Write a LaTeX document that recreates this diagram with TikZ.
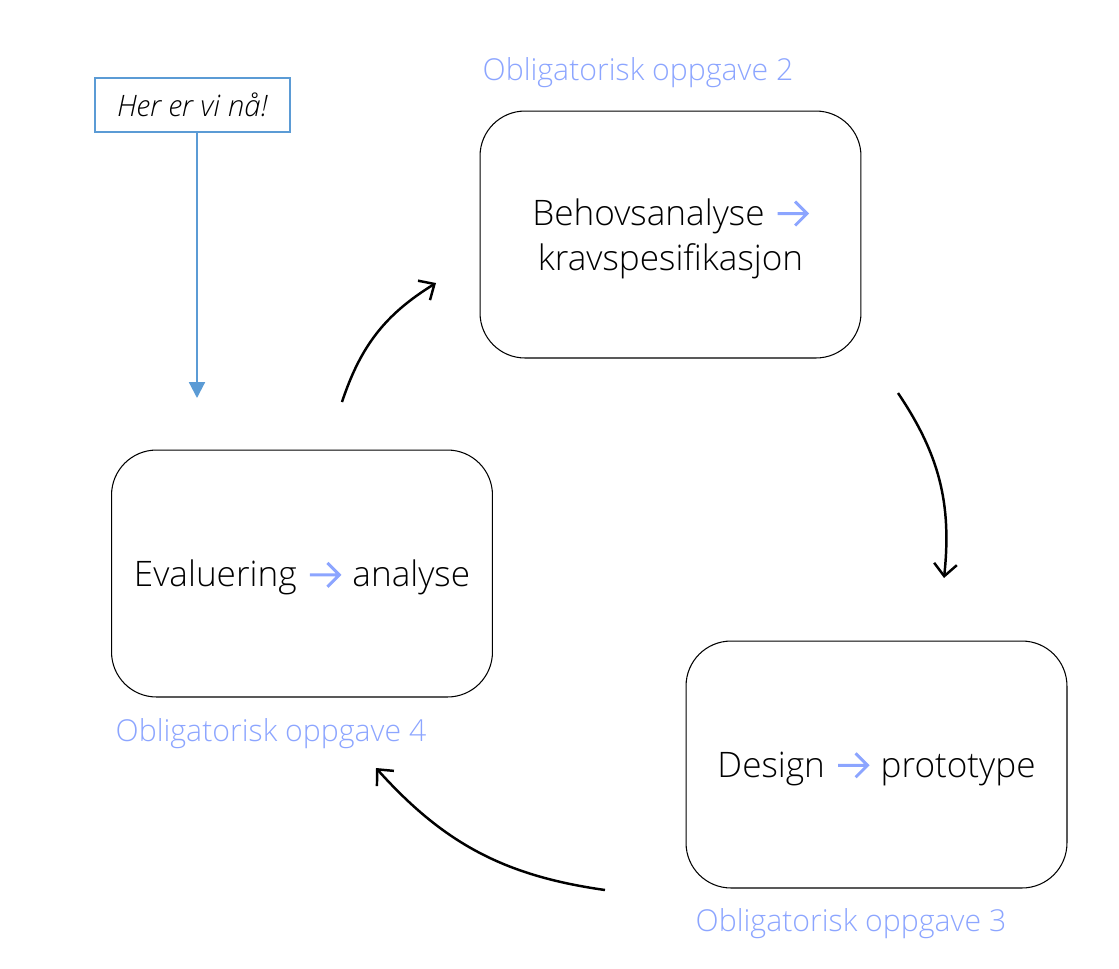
\documentclass[tikz,border=0pt]{standalone}
\usepackage{fontspec}
\setmainfont{Open Sans}[UprightFont=* Light,ItalicFont=* Light Italic]
\usepackage{xcolor}
\usepackage{tikz}
\usetikzlibrary{arrows.meta,positioning,calc}
\definecolor{taskblue}{RGB}{140,165,255}
\definecolor{nowblue}{RGB}{91,155,213}
\newcommand{\nextstep}{\hspace{0.07em}\tikz[baseline=0pt]\draw[taskblue,line width=1.7pt,sharp corners,line join=miter]
    (0,0.34em) -- (0.82em,0.34em) (0.5em,0.68em) -- (0.84em,0.34em) -- (0.5em,0em);\hspace{0.07em}}

\begin{document}
\begin{tikzpicture}[x=0.02cm,y=-0.02cm,
    phase/.style={draw=black,line width=0.6pt,rounded corners=0.9cm,
        minimum width=7.62cm,minimum height=4.94cm,align=center,text depth=0pt,
        font=\fontsize{20}{25.5}\selectfont},
    task/.style={text=taskblue,font=\fontsize{17.2}{20}\selectfont},
    cyclearrow/.style={line width=1.4pt,-{Straight Barb[length=7pt,width=13pt,line width=1.4pt]}}]
    \useasboundingbox (0,0) rectangle (1119,968);

    % Phases of the cycle
    \node[phase] (behov) at (670.5,234.5) {Behovsanalyse \nextstep\\kravspesifikasjon};
    \node[phase] (design) at (876.5,764.5) {Design \nextstep\ prototype};
    \node[phase] (eval) at (302,573.5) {Evaluering \nextstep\ analyse};

    % Assignment labels
    \node[task] (oblig2) at (638,73) {Obligatorisk oppgave 2};
    \node[task] (oblig3) at (851,924) {Obligatorisk oppgave 3};
    \node[task] (oblig4) at (271,734) {Obligatorisk oppgave 4};

    % Arrows between the phases
    \coordinate (evalout) at (342,402);
    \coordinate (behovin) at (436,283);
    \coordinate (behovout) at (898,393);
    \coordinate (designin) at (944,578);
    \coordinate (designout) at (605,890);
    \coordinate (evalin) at (376,768);
    \draw[cyclearrow] (evalout) to[bend left=20] (behovin);
    \draw[cyclearrow] (behovout) to[bend left=20] (designin);
    \draw[cyclearrow] (designout) to[bend left=20] (evalin);

    % Where we are now
    \node[draw=nowblue,line width=0.7pt,minimum width=3.9cm,minimum height=1.08cm,
        font=\fontsize{16.8}{19}\selectfont\itshape] (now) at (192.5,105) {Her er vi nå!};
    \coordinate (nowtip) at (197,398);
    \draw[nowblue,line width=1.2pt,-{Triangle[length=9pt,width=9pt]}] (now.south -| nowtip) -- (nowtip);
\end{tikzpicture}
\end{document}
